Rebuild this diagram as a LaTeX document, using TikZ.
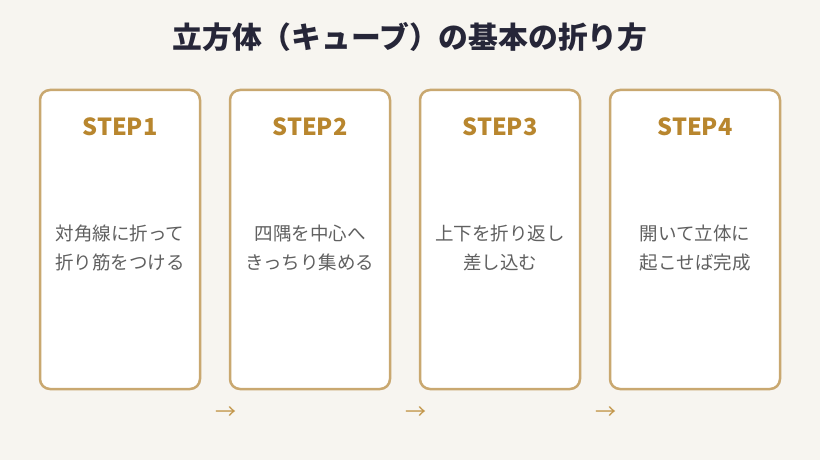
\documentclass[tikz,border=0pt]{standalone}
\usepackage{fontspec}
\newfontfamily\jp{Noto Sans CJK JP}
\definecolor{bgcol}{HTML}{F7F5F0}
\definecolor{framecol}{HTML}{C9A870}
\definecolor{stepcol}{HTML}{B8862E}
\definecolor{titlecol}{HTML}{262638}
\definecolor{textcol}{HTML}{606060}
\tikzset{
  card/.style={draw=framecol, line width=2.5pt, rounded corners=10pt, fill=white},
  steplabel/.style={text=stepcol, font=\jp\bfseries\fontsize{23.5}{28}\selectfont},
  body/.style={text=textcol, font=\jp\fontsize{18.5}{29}\selectfont, align=center},
  arrowtext/.style={text=stepcol!85, font=\jp\fontsize{21}{24}\selectfont}
}
\begin{document}
\begin{tikzpicture}[x=1pt, y=-1pt]
\fill[bgcol] (0, 0) rectangle (820, 460);
\useasboundingbox (0, 0) rectangle (820, 460);
\node[text=titlecol, font=\jp\bfseries\fontsize{29.8}{34}\selectfont] (title) at (410, 37) {立方体（キューブ）の基本の折り方};
% cards
\draw[card] (40, 90) rectangle (200, 389);
\draw[card] (230, 90) rectangle (390, 389);
\draw[card] (420, 90) rectangle (580, 389);
\draw[card] (610, 90) rectangle (780, 389);
\node[steplabel] (s1) at (120, 127) {STEP1};
\node[steplabel] (s2) at (310, 127) {STEP2};
\node[steplabel] (s3) at (500, 127) {STEP3};
\node[steplabel] (s4) at (695, 127) {STEP4};
\node[body] (b1) at (120, 248) {対角線に折って\\折り筋をつける};
\node[body] (b2) at (310, 248) {四隅を中心へ\\きっちり集める};
\node[body] (b3) at (500, 248) {上下を折り返し\\差し込む};
\node[body] (b4) at (695, 248) {開いて立体に\\起こせば完成};
% arrows
\node[arrowtext] (a1) at (226, 413) {→};
\node[arrowtext] (a2) at (416, 413) {→};
\node[arrowtext] (a3) at (606, 413) {→};
\end{tikzpicture}
\end{document}
